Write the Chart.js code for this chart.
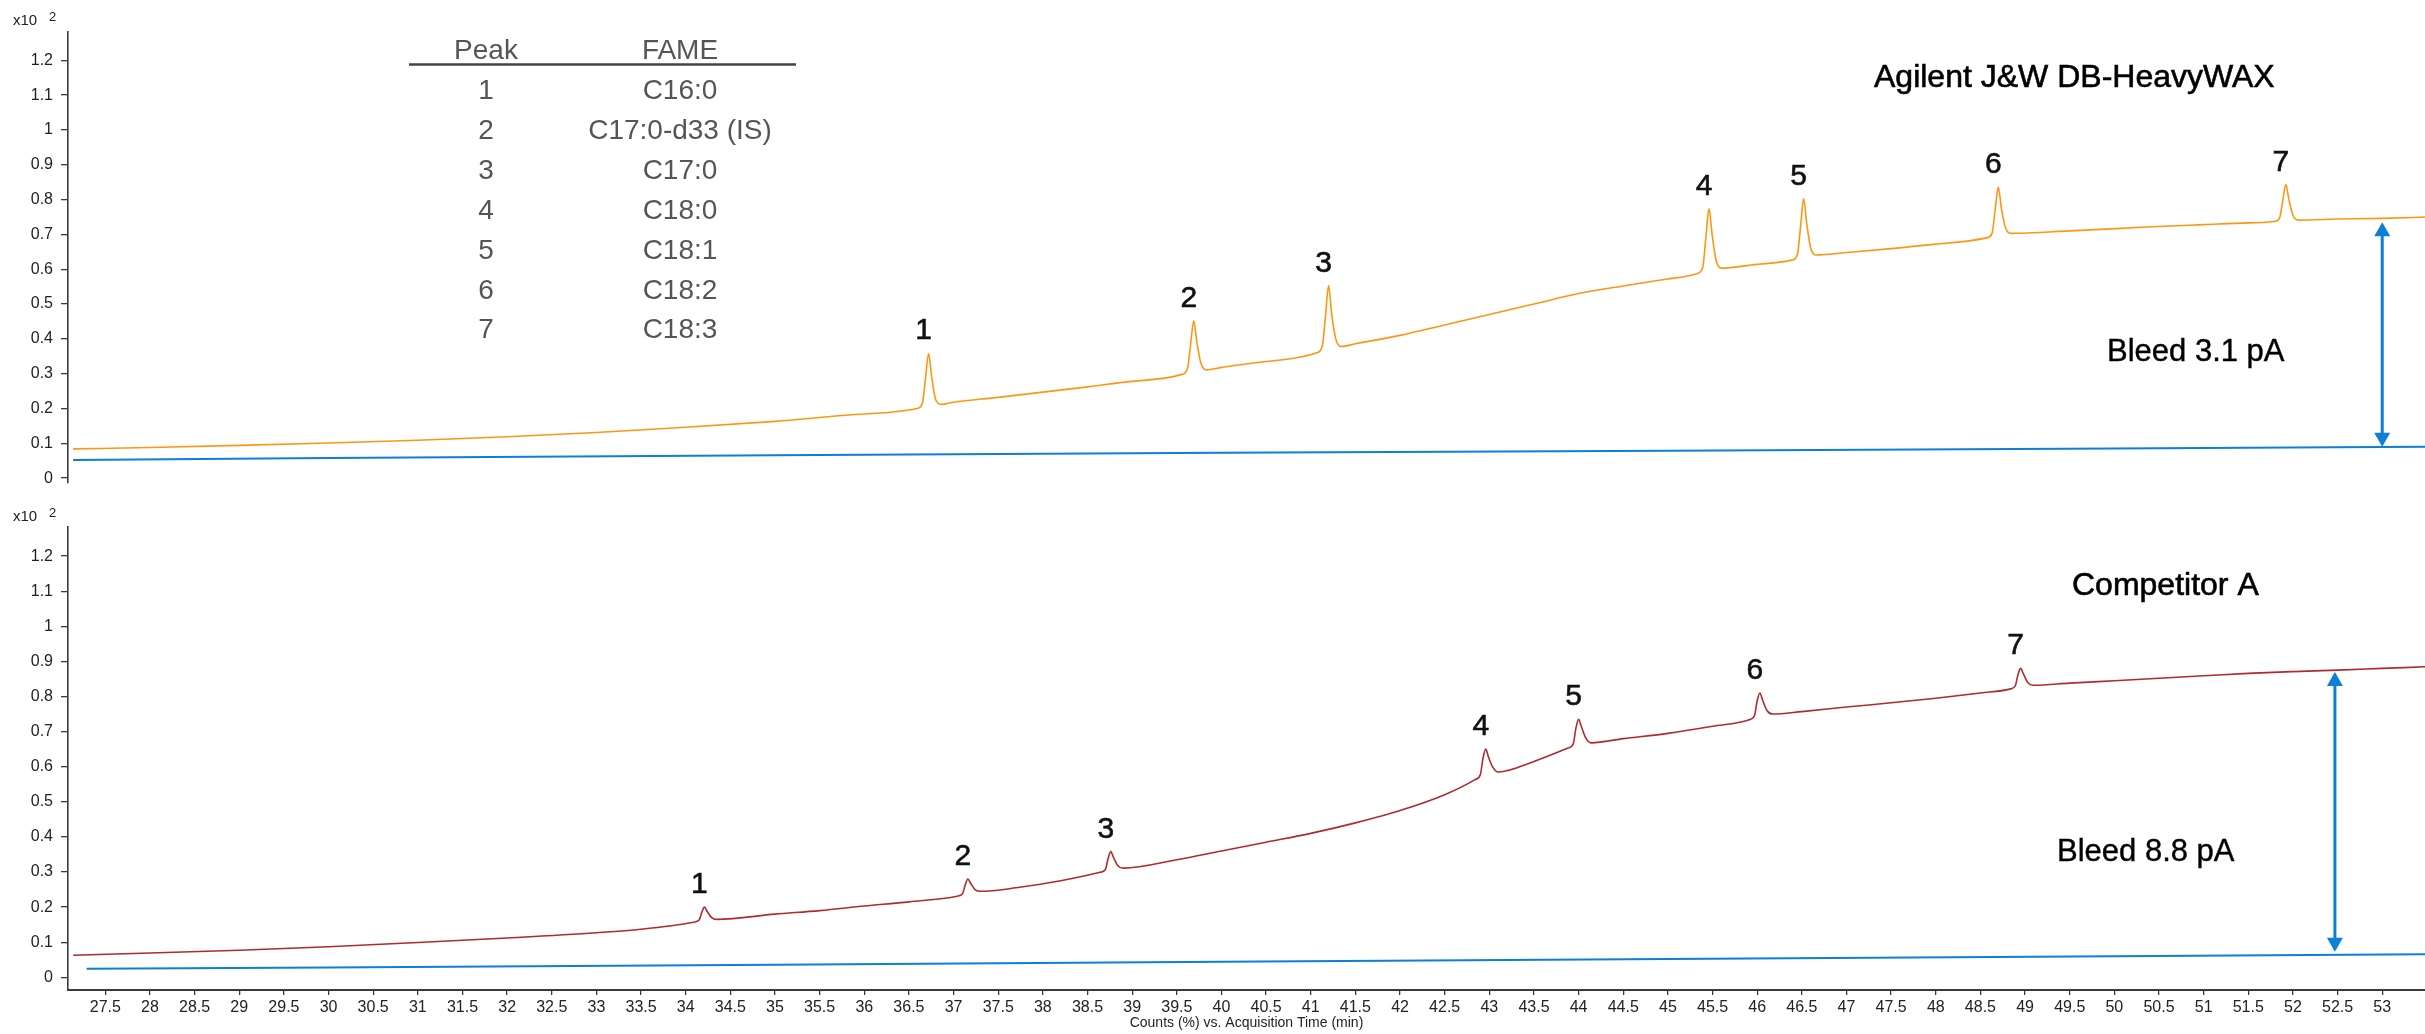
<!DOCTYPE html>
<html>
<head>
<meta charset="utf-8">
<script src="https://cdn.jsdelivr.net/npm/chart.js@4.4.1/dist/chart.umd.min.js"></script>
<style>
  body { margin: 0; background: #fff; }
  #wrap { position: relative; width: 2425px; height: 1034px; }
  canvas { position: absolute; left: 0; }
  #topChart { top: 0; }
  #bottomChart { top: 500px; }
</style>
</head>
<body>
<div id="wrap">
  <canvas id="topChart" width="2425" height="500"></canvas>
  <canvas id="bottomChart" width="2425" height="534"></canvas>
</div>
<script>
// Axis ticks
const timeTicks = [27.5, 28, 28.5, 29, 29.5, 30, 30.5, 31, 31.5, 32, 32.5, 33, 33.5, 34, 34.5, 35,
  35.5, 36, 36.5, 37, 37.5, 38, 38.5, 39, 39.5, 40, 40.5, 41, 41.5, 42, 42.5, 43, 43.5, 44, 44.5,
  45, 45.5, 46, 46.5, 47, 47.5, 48, 48.5, 49, 49.5, 50, 50.5, 51, 51.5, 52, 52.5, 53];
const countTicks = [0, 0.1, 0.2, 0.3, 0.4, 0.5, 0.6, 0.7, 0.8, 0.9, 1, 1.1, 1.2];

// Peak table
const peakIds = ['1', '2', '3', '4', '5', '6', '7'];
const fameNames = ['C16:0', 'C17:0-d33 (IS)', 'C17:0', 'C18:0', 'C18:1', 'C18:2', 'C18:3'];

// DB-HeavyWAX trace (time in min, counts x10^2)
const waxTimes = [27.14, 28, 29, 30, 31, 32, 33, 34, 35, 36,
  36.59, 36.65, 36.685, 36.72, 36.755, 36.80, 36.86,
  37, 37.5, 38, 38.5, 39,
  39.56, 39.62, 39.655, 39.69, 39.725, 39.77, 39.83,
  40, 40.5,
  41.07, 41.13, 41.165, 41.2, 41.235, 41.28, 41.34,
  41.5, 42, 42.5, 43, 43.5, 44, 44.5, 45,
  45.33, 45.39, 45.425, 45.46, 45.495, 45.54, 45.60,
  46,
  46.39, 46.45, 46.485, 46.52, 46.555, 46.60, 46.66,
  47, 47.5, 48,
  48.57, 48.63, 48.665, 48.70, 48.735, 48.78, 48.84,
  49.5, 50.42, 51, 51.5,
  51.79, 51.85, 51.885, 51.92, 51.955, 52.0, 52.06,
  52.5, 53, 53.51];
const waxValues = [0.084, 0.088, 0.094, 0.101, 0.109, 0.119, 0.131, 0.146, 0.163, 0.184,
  0.200, 0.215, 0.285, 0.358, 0.290, 0.225, 0.212,
  0.218, 0.232, 0.247, 0.262, 0.278,
  0.298, 0.315, 0.385, 0.452, 0.390, 0.330, 0.311,
  0.318, 0.335,
  0.360, 0.380, 0.465, 0.553, 0.470, 0.400, 0.378,
  0.386, 0.410, 0.440, 0.470, 0.500, 0.530, 0.552, 0.572,
  0.588, 0.605, 0.690, 0.774, 0.700, 0.625, 0.603,
  0.614,
  0.626, 0.642, 0.720, 0.802, 0.730, 0.660, 0.641,
  0.648, 0.659, 0.672,
  0.690, 0.703, 0.770, 0.836, 0.775, 0.720, 0.703,
  0.710, 0.722, 0.728, 0.733,
  0.737, 0.747, 0.795, 0.843, 0.800, 0.755, 0.741,
  0.744, 0.746, 0.750];
const waxBleedTimes = [27.14, 30, 35, 40, 45, 50, 53.51];
const waxBleedValues = [0.052, 0.058, 0.066, 0.073, 0.079, 0.085, 0.090];

// Competitor A trace
const compTimes = [27.14, 28, 29, 30, 31, 32, 33, 33.5,
  34.09, 34.15, 34.18, 34.21, 34.24, 34.29, 34.35,
  35, 35.5, 36, 36.5,
  37.04, 37.10, 37.13, 37.16, 37.19, 37.24, 37.30,
  37.7, 38.2,
  38.64, 38.70, 38.73, 38.76, 38.79, 38.84, 38.90,
  39.5, 40, 40.5, 41, 41.5, 42, 42.5,
  42.84, 42.90, 42.93, 42.96, 42.99, 43.04, 43.10,
  43.5,
  43.88, 43.94, 43.97, 44.0, 44.03, 44.08, 44.14,
  44.5, 45, 45.5,
  45.91, 45.97, 46.0, 46.03, 46.06, 46.11, 46.17,
  46.5, 47, 47.5, 48, 48.5,
  48.83, 48.89, 48.92, 48.95, 48.98, 49.03, 49.09,
  49.5, 50, 50.5, 51, 51.5, 52, 52.5, 53, 53.51];
const compValues = [0.063, 0.069, 0.077, 0.087, 0.099, 0.112, 0.127, 0.137,
  0.157, 0.163, 0.185, 0.200, 0.188, 0.170, 0.165,
  0.180, 0.190, 0.203, 0.215,
  0.231, 0.238, 0.263, 0.280, 0.268, 0.250, 0.245,
  0.255, 0.275,
  0.299, 0.307, 0.338, 0.358, 0.342, 0.318, 0.311,
  0.335, 0.360, 0.385, 0.410, 0.440, 0.475, 0.520,
  0.563, 0.578, 0.625, 0.650, 0.628, 0.598, 0.585,
  0.615,
  0.653, 0.665, 0.710, 0.735, 0.715, 0.682, 0.668,
  0.680, 0.695, 0.715,
  0.734, 0.746, 0.788, 0.810, 0.790, 0.760, 0.750,
  0.757, 0.770, 0.782, 0.795, 0.810,
  0.821, 0.830, 0.862, 0.880, 0.865, 0.840, 0.832,
  0.838, 0.845, 0.852, 0.859, 0.866, 0.871, 0.875, 0.880, 0.885];
const compBleedTimes = [27.29, 30, 35, 40, 45, 50, 53.51];
const compBleedValues = [0.024, 0.028, 0.036, 0.044, 0.052, 0.060, 0.066];

// Peak labels (apex time, apex height)
const waxPeakTimes = [36.72, 39.69, 41.2, 45.46, 46.52, 48.70, 51.92];
const waxPeakTops = [0.358, 0.452, 0.553, 0.774, 0.802, 0.836, 0.843];
const compPeakTimes = [34.21, 37.16, 38.76, 42.96, 44.0, 46.03, 48.95];
const compPeakTops = [0.200, 0.280, 0.358, 0.650, 0.735, 0.810, 0.880];

// Bleed arrows: [time, upper value, lower value]
const waxBleedArrow = [53.0, 0.735, 0.090];
const compBleedArrow = [52.47, 0.870, 0.073];

const ORANGE = '#FF9612';
const RED = '#B02A2E';
const BLUE = '#0C7FD6';
const AXIS = '#3a3a3a';
const FONT = 'Arial, "Liberation Sans", sans-serif';

function toPoints(times, values) {
    return times.map((t, i) => ({ x: t, y: values[i] }));
}

function drawArrow(ctx, x, yTop, yBottom) {
    const head = 14, half = 8;
    ctx.save();
    ctx.strokeStyle = BLUE;
    ctx.fillStyle = BLUE;
    ctx.lineWidth = 3;
    ctx.beginPath();
    ctx.moveTo(x, yTop + head - 2);
    ctx.lineTo(x, yBottom - head + 2);
    ctx.stroke();
    ctx.beginPath();
    ctx.moveTo(x, yTop);
    ctx.lineTo(x - half, yTop + head);
    ctx.lineTo(x + half, yTop + head);
    ctx.closePath();
    ctx.fill();
    ctx.beginPath();
    ctx.moveTo(x, yBottom);
    ctx.lineTo(x - half, yBottom - head);
    ctx.lineTo(x + half, yBottom - head);
    ctx.closePath();
    ctx.fill();
    ctx.restore();
}

// slightly heavier text, like the original export
function heavyText(ctx, text, x, y) {
    ctx.fillText(text, x, y);
    ctx.strokeText(text, x, y);
}

function annotations(cfg) {
    return {
        id: 'annotations',
        afterDraw(chart) {
            const ctx = chart.ctx;
            const xs = chart.scales.x;
            const ys = chart.scales.y;
            ctx.save();

            // x10^2 exponent marker
            ctx.fillStyle = '#222';
            ctx.textAlign = 'left';
            ctx.textBaseline = 'alphabetic';
            ctx.font = '15px ' + FONT;
            ctx.fillText('x10', 13, cfg.expY);
            ctx.font = '13px ' + FONT;
            ctx.fillText('2', 49, cfg.expY - 4);

            // peak numbers
            ctx.fillStyle = '#111';
            ctx.strokeStyle = '#111';
            ctx.lineWidth = 0.6;
            ctx.textAlign = 'center';
            ctx.font = '30px ' + FONT;
            cfg.peakTimes.forEach((t, i) => {
                const px = xs.getPixelForValue(t) - 5;
                const py = ys.getPixelForValue(cfg.peakTops[i]) - 14;
                heavyText(ctx, peakIds[i], px, py);
            });

            // panel title and bleed text
            ctx.fillStyle = '#000';
            ctx.strokeStyle = '#000';
            ctx.textAlign = 'left';
            ctx.font = '32px ' + FONT;
            heavyText(ctx, cfg.title, cfg.titleX, cfg.titleY);
            ctx.lineWidth = 0.4;
            ctx.font = '31px ' + FONT;
            heavyText(ctx, cfg.bleedText, cfg.bleedX, cfg.bleedY);

            const a = cfg.arrow;
            drawArrow(ctx, xs.getPixelForValue(a[0]), ys.getPixelForValue(a[1]), ys.getPixelForValue(a[2]));

            // peak table
            if (cfg.table) {
                ctx.fillStyle = '#555';
                ctx.textAlign = 'center';
                ctx.font = '28px ' + FONT;
                ctx.fillText('Peak', 486, 59);
                ctx.fillText('FAME', 680, 59);
                ctx.strokeStyle = '#444';
                ctx.lineWidth = 2.5;
                ctx.beginPath();
                ctx.moveTo(409, 64.5);
                ctx.lineTo(796, 64.5);
                ctx.stroke();
                peakIds.forEach((id, i) => {
                    const y = 99 + i * 39.9;
                    ctx.fillText(id, 486, y);
                    ctx.fillText(fameNames[i], 680, y);
                });
            }
            ctx.restore();
        }
    };
}

function makeChart(canvasId, opts) {
    const ctx = document.getElementById(canvasId).getContext('2d');
    return new Chart(ctx, {
        type: 'scatter',
        data: {
            datasets: [
                {
                    data: toPoints(opts.bleedTimes, opts.bleedValues),
                    showLine: true,
                    borderColor: BLUE,
                    borderWidth: 2,
                    pointRadius: 0,
                    tension: 0
                },
                {
                    data: toPoints(opts.times, opts.values),
                    showLine: true,
                    borderColor: opts.color,
                    borderWidth: 1.6,
                    pointRadius: 0,
                    cubicInterpolationMode: 'monotone'
                }
            ]
        },
        options: {
            responsive: false,
            devicePixelRatio: 1,
            animation: false,
            events: [],
            layout: { padding: opts.padding },
            plugins: {
                legend: { display: false },
                tooltip: { enabled: false }
            },
            scales: {
                x: {
                    type: 'linear',
                    display: opts.showX,
                    min: 27.082,
                    max: 53.479,
                    afterBuildTicks: s => { s.ticks = timeTicks.map(v => ({ value: v })); },
                    afterFit: s => { if (opts.showX) s.height = 44; },
                    grid: { drawOnChartArea: false, tickLength: 5, color: AXIS, lineWidth: 1.3 },
                    border: { display: true, color: AXIS, width: 2 },
                    ticks: {
                        autoSkip: false,
                        maxRotation: 0,
                        padding: 3,
                        color: '#222',
                        font: { family: FONT, size: 16 },
                        callback: v => String(v)
                    },
                    title: {
                        display: true,
                        text: 'Counts (%) vs. Acquisition Time (min)',
                        color: '#222',
                        font: { family: FONT, size: 14 },
                        padding: { top: 0, bottom: 2 }
                    }
                },
                y: {
                    type: 'linear',
                    min: opts.yMin,
                    max: opts.yMax,
                    afterBuildTicks: s => { s.ticks = countTicks.map(v => ({ value: v })); },
                    afterFit: s => { s.width = 68; },
                    grid: { drawOnChartArea: false, tickLength: 7, color: AXIS, lineWidth: 1.3 },
                    border: { display: true, color: AXIS, width: 1.6 },
                    ticks: {
                        padding: 8,
                        color: '#222',
                        font: { family: FONT, size: 16 },
                        callback: v => String(v)
                    }
                }
            }
        },
        plugins: [annotations(opts.notes)]
    });
}

makeChart('topChart', {
    times: waxTimes, values: waxValues, color: ORANGE,
    bleedTimes: waxBleedTimes, bleedValues: waxBleedValues,
    showX: false, yMin: -0.01225, yMax: 1.2812,
    padding: { top: 32, bottom: 14, left: 0, right: 0 },
    notes: {
        expY: 25, peakTimes: waxPeakTimes, peakTops: waxPeakTops,
        title: 'Agilent J&W DB-HeavyWAX', titleX: 1874, titleY: 87,
        bleedText: 'Bleed 3.1 pA', bleedX: 2107, bleedY: 361,
        arrow: waxBleedArrow, table: true
    }
});

makeChart('bottomChart', {
    times: compTimes, values: compValues, color: RED,
    bleedTimes: compBleedTimes, bleedValues: compBleedValues,
    showX: true, yMin: -0.0362, yMax: 1.2829,
    padding: { top: 27, bottom: 0, left: 0, right: 0 },
    notes: {
        expY: 21, peakTimes: compPeakTimes, peakTops: compPeakTops,
        title: 'Competitor A', titleX: 2072, titleY: 95,
        bleedText: 'Bleed 8.8 pA', bleedX: 2057, bleedY: 361,
        arrow: compBleedArrow, table: false
    }
});
</script>
</body>
</html>
